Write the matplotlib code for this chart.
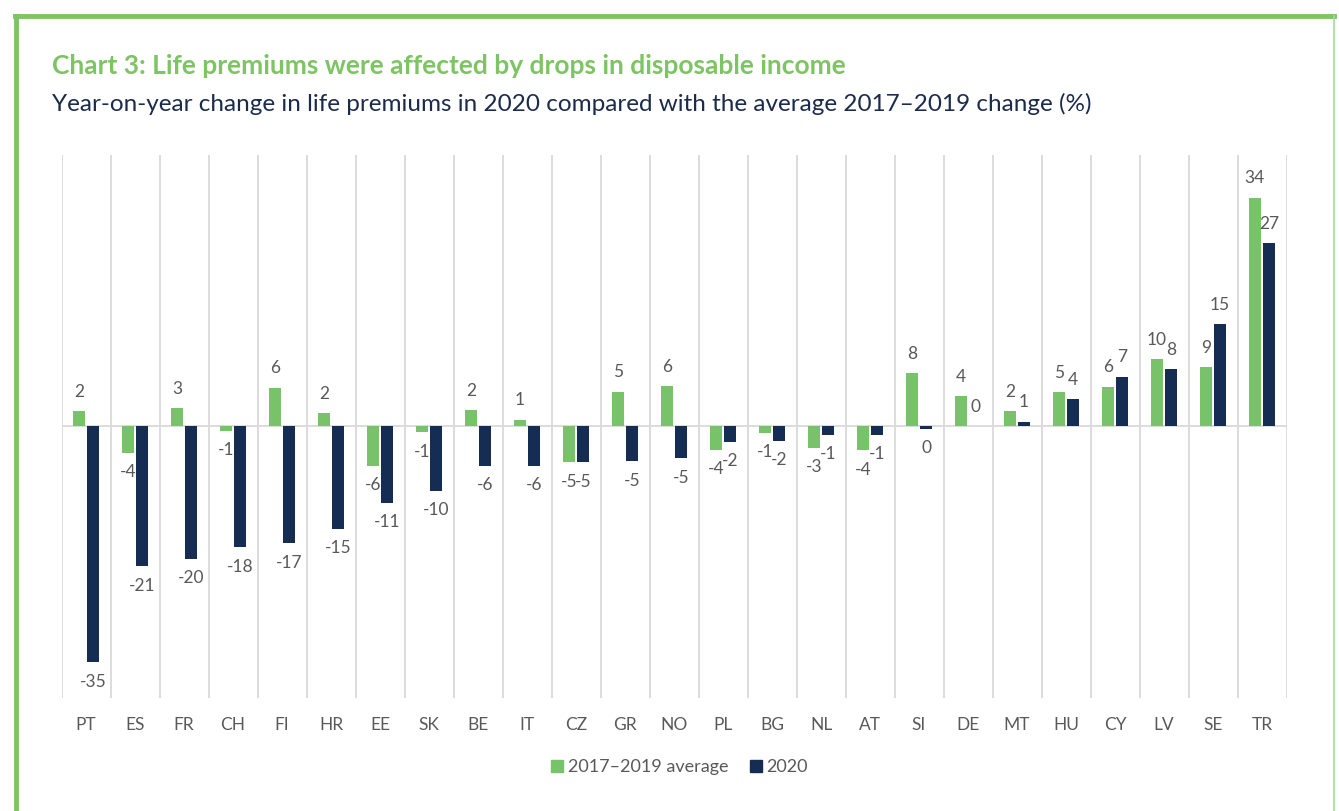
import numpy as np
import matplotlib.pyplot as plt
from matplotlib.lines import Line2D

plt.rcParams['font.family'] = ['Lato', 'DejaVu Sans']

countries = ['PT', 'ES', 'FR', 'CH', 'FI', 'HR', 'EE', 'SK', 'BE', 'IT', 'CZ', 'GR', 'NO',
             'PL', 'BG', 'NL', 'AT', 'SI', 'DE', 'MT', 'HU', 'CY', 'LV', 'SE', 'TR']
avg_2017_2019 = [2.2, -4.0, 2.6, -0.7, 5.7, 1.9, -5.9, -0.9, 2.3, 0.9, -5.4, 5.1, 5.9,
                 -3.5, -1.0, -3.2, -3.6, 7.8, 4.4, 2.2, 5.0, 5.8, 9.9, 8.7, 33.8]
y2020 = [-35.0, -20.8, -19.7, -18.0, -17.4, -15.2, -11.4, -9.6, -5.9, -5.9, -5.4, -5.2, -4.8,
         -2.3, -2.2, -1.3, -1.3, -0.4, 0.0, 0.6, 4.0, 7.3, 8.4, 15.1, 27.1]

green = '#78C36A'
navy = '#152D52'
grey_text = '#595959'

fig = plt.figure(figsize=(13.39, 8.11), dpi=100)
ax = fig.add_axes([61.5/1339, 1-698/811, 1225/1339, 543/811])

x = np.arange(len(countries))
w = 0.235
off = 0.145
b1 = ax.bar(x - off, avg_2017_2019, w, color=green, zorder=3)
b2 = ax.bar(x + off, y2020, w, color=navy, zorder=3)

# data labels outside the bar ends
for bars, vals in [(b1, avg_2017_2019), (b2, y2020)]:
    for rect, v in zip(bars, vals):
        cx = rect.get_x() + rect.get_width()/2
        dy = 14 if v >= 0 else -14
        ax.annotate(str(round(v)), (cx, v), xytext=(0, dy), textcoords='offset points',
                    ha='center', va='center', fontsize=12.5, color=grey_text, zorder=4)

ax.set_xlim(-0.5, len(countries) - 0.5)
ax.set_ylim(-40.3, 40.15)
for b in np.arange(-0.5, len(countries), 1.0):
    ax.axvline(b, color='#D9D9D9', lw=1.3, zorder=1)
ax.axhline(0, color='#D9D9D9', lw=1.3, zorder=2)
for s in ax.spines.values():
    s.set_visible(False)
ax.set_yticks([])
ax.set_xticks(x)
ax.set_xticklabels(countries, fontsize=12.5, color=grey_text)
ax.tick_params(axis='x', length=0, pad=14)

fig.text(52/1339, 1-66/811, 'Chart 3: Life premiums were affected by drops in disposable income',
         fontsize=19, fontweight='bold', color='#7DC462', va='center')
fig.text(52/1339, 1-104/811,
         'Year-on-year change in life premiums in 2020 compared with the average 2017\u20132019 change (%)',
         fontsize=17.5, color='#1B2B4B', va='center')

handles = [Line2D([], [], marker='s', ls='', color=green, markersize=8),
           Line2D([], [], marker='s', ls='', color=navy, markersize=8)]
fig.legend(handles, ['2017\u20132019 average', '2020'], loc='center', ncol=2,
           bbox_to_anchor=(678/1339, 1-767/811), frameon=False, fontsize=13,
           labelcolor=grey_text, handletextpad=0.1, columnspacing=1.0, handlelength=1)

# green frame
fig.add_artist(Line2D([15/1339, 1334/1339], [1-16/811, 1-16/811], color='#7DC462', lw=3.5))
fig.add_artist(Line2D([16/1339, 16/1339], [0, 1-16/811], color='#7DC462', lw=3.5))
fig.add_artist(Line2D([1334/1339, 1334/1339], [0, 1-16/811], color='#A6DA9A', lw=1.2))

fig.savefig('out.png', dpi=100)
